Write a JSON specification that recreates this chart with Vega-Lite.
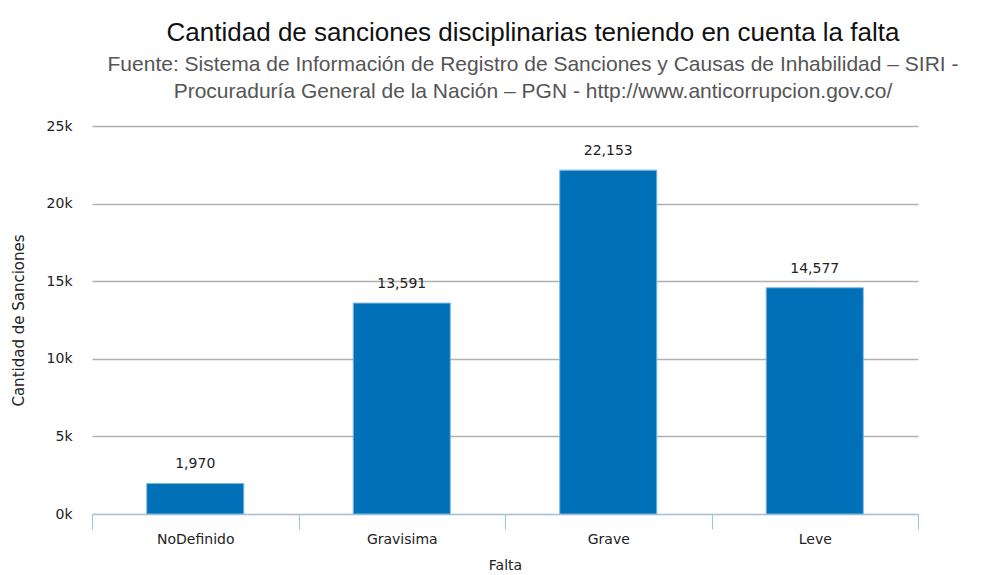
{
  "$schema": "https://vega.github.io/schema/vega-lite/v6.json",
  "autosize": {"type": "none"},
  "width": 826,
  "height": 388,
  "padding": {"left": 92, "top": 126, "right": 70, "bottom": 61},
  "background": "white",
  "title": {
    "text": "Cantidad de sanciones disciplinarias teniendo en cuenta la falta",
    "subtitle": ["Fuente: Sistema de Información de Registro de Sanciones y Causas de Inhabilidad – SIRI -", "Procuraduría General de la Nación – PGN - http://www.anticorrupcion.gov.co/"],
    "anchor": "middle",
    "frame": "group",
    "dx": 28,
    "font": "Liberation Sans",
    "fontSize": 26,
    "fontWeight": "normal",
    "color": "#111111",
    "subtitleFont": "Liberation Sans",
    "subtitleFontSize": 21,
    "subtitleColor": "#555555",
    "subtitlePadding": 8,
    "subtitleLineHeight": 27,
    "offset": 17
  },
  "data": {
    "values": [
      {"Falta": "NoDefinido", "Cantidad": 1970},
      {"Falta": "Gravisima", "Cantidad": 13591},
      {"Falta": "Grave", "Cantidad": 22153},
      {"Falta": "Leve", "Cantidad": 14577}
    ]
  },
  "encoding": {
    "x": {
      "field": "Falta",
      "type": "nominal",
      "sort": null,
      "scale": {"paddingInner": 0, "paddingOuter": 0},
      "axis": {
        "title": "Falta",
        "labelAngle": 0,
        "labelFont": "DejaVu Sans",
        "labelFontSize": 14,
        "labelColor": "#222222",
        "labelPadding": 3,
        "titleFont": "DejaVu Sans",
        "titleFontSize": 14,
        "titleFontWeight": "normal",
        "titleColor": "#222222",
        "titlePadding": 12,
        "domainColor": "#9cc3e0",
        "tickColor": "#9cc3e0",
        "tickSize": 15,
        "tickBand": "extent",
        "grid": false
      }
    },
    "y": {
      "field": "Cantidad",
      "type": "quantitative",
      "scale": {"domain": [0, 25000]},
      "axis": {
        "title": "Cantidad de Sanciones",
        "values": [0, 5000, 10000, 15000, 20000, 25000],
        "labelExpr": "datum.value / 1000 + 'k'",
        "labelFont": "DejaVu Sans",
        "labelFontSize": 14,
        "labelColor": "#222222",
        "labelPadding": 20,
        "titleFont": "DejaVu Sans",
        "titleFontSize": 15,
        "titleFontWeight": "normal",
        "titleColor": "#222222",
        "titlePadding": 20,
        "domain": false,
        "ticks": false,
        "gridColor": "#b0b0b0",
        "gridWidth": 1.5
      }
    }
  },
  "layer": [
    {
      "mark": {"type": "bar", "color": "#0070b8", "stroke": "#7fb8e0", "strokeWidth": 1, "width": {"band": 0.47}}
    },
    {
      "mark": {"type": "text", "baseline": "bottom", "dy": -12, "font": "DejaVu Sans", "fontSize": 14, "color": "#222222"},
      "encoding": {
        "text": {"field": "Cantidad", "type": "quantitative", "format": ","}
      }
    }
  ],
  "config": {"view": {"stroke": null}}
}
